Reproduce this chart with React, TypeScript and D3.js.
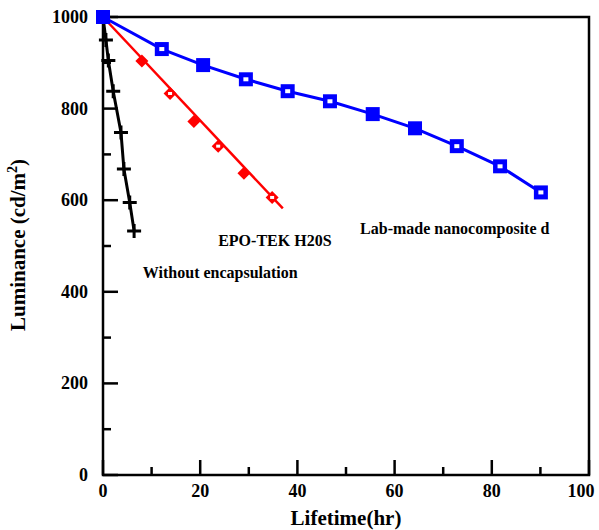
import * as React from 'react';
import { useEffect, useRef } from 'react';
import * as d3 from 'd3';

// Lab-made nanocomposite d (blue squares)
const blueHours = [0, 12.1, 20.6, 29.4, 38, 46.7, 55.5, 64.2, 72.8, 81.7, 90.1];
const blueLum = [1000, 930, 895, 864, 838, 816, 788, 757, 718, 674, 617];
const blueOpen = [false, true, false, true, true, true, false, false, true, true, true];

// EPO-TEK H20S (red diamonds) + its fitted line
const redHours = [0, 8.0, 13.8, 18.7, 23.7, 29.0, 34.8];
const redLum = [1000, 904, 833, 772, 718, 659, 606];
const redOpen = [false, false, true, false, true, false, true];
const redFitHours = [0, 37];
const redFitLum = [1000, 582];

// Without encapsulation (black crosses)
const blackHours = [0, 0.6, 1.1, 2.1, 3.7, 4.3, 5.5, 6.4];
const blackLum = [1000, 950, 905, 838, 748, 668, 595, 533];

const xTicks = [0, 20, 40, 60, 80, 100];
const xMinor = [10, 30, 50, 70, 90];
const yTicks = [0, 200, 400, 600, 800, 1000];
const yMinor = [100, 300, 500, 700, 900];

const W = 599;
const H = 530;
const margin = { top: 17, right: 10, bottom: 55, left: 103 };
const FONT = '"Liberation Serif", "Times New Roman", serif';

type Pt = { x: number; y: number; open?: boolean };
const zip = (xs: number[], ys: number[], open?: boolean[]): Pt[] =>
    xs.map((x, i) => ({ x, y: ys[i], open: open ? open[i] : false }));

export default function App() {
    const svgRef = useRef<SVGSVGElement>(null);

    useEffect(() => {
        if (!svgRef.current) return;
        const svg = d3.select(svgRef.current);
        svg.selectAll('*').remove();

        const x = d3.scaleLinear().domain([0, 100]).range([margin.left, W - margin.right]);
        const y = d3.scaleLinear().domain([0, 1000]).range([H - margin.bottom, margin.top]);

        const line = d3.line<Pt>().x(d => x(d.x)).y(d => y(d.y));

        const blue = zip(blueHours, blueLum, blueOpen);
        const red = zip(redHours, redLum, redOpen);
        const redFit = zip(redFitHours, redFitLum);
        const black = zip(blackHours, blackLum);

        // ticks (inward)
        const g = svg.append('g');
        const tick = (sel: any, data: number[], len: number, axis: 'x' | 'y') => {
            sel.selectAll(null).data(data).enter().append('line')
                .attr('x1', (d: number) => axis === 'x' ? x(d) : x(0))
                .attr('x2', (d: number) => axis === 'x' ? x(d) : x(0) + len)
                .attr('y1', (d: number) => axis === 'x' ? y(0) : y(d))
                .attr('y2', (d: number) => axis === 'x' ? y(0) - len : y(d))
                .attr('stroke', '#000')
                .attr('stroke-width', 2.5);
        };
        tick(g, xTicks, 15, 'x');
        tick(g, xMinor, 8, 'x');
        tick(g, yTicks, 15, 'y');
        tick(g, yMinor, 8, 'y');

        // frame
        svg.append('rect')
            .attr('x', x(0)).attr('y', y(1000))
            .attr('width', x(100) - x(0)).attr('height', y(0) - y(1000))
            .attr('fill', 'none').attr('stroke', '#000').attr('stroke-width', 2.5);

        // tick labels (last one pulled in so it stays on the page)
        svg.append('g').selectAll('text').data(xTicks).enter().append('text')
            .attr('x', d => d === 100 ? x(d) - 8 : x(d)).attr('y', y(0) + 22)
            .attr('text-anchor', 'middle')
            .attr('font-family', FONT).attr('font-weight', 'bold').attr('font-size', 18)
            .text(d => d);
        svg.append('g').selectAll('text').data(yTicks).enter().append('text')
            .attr('x', x(0) - 15).attr('y', d => y(d) + 6)
            .attr('text-anchor', 'end')
            .attr('font-family', FONT).attr('font-weight', 'bold').attr('font-size', 18)
            .text(d => d);

        // axis titles
        svg.append('text')
            .attr('x', 346).attr('y', 525)
            .attr('text-anchor', 'middle')
            .attr('font-family', FONT).attr('font-weight', 'bold').attr('font-size', 21)
            .text('Lifetime(hr)');
        const yl = svg.append('text')
            .attr('transform', `translate(25,245) rotate(-90)`)
            .attr('text-anchor', 'middle')
            .attr('font-family', FONT).attr('font-weight', 'bold').attr('font-size', 21);
        yl.append('tspan').text('Luminance (cd/m');
        yl.append('tspan').attr('font-size', 14).attr('dy', -8).text('2');
        yl.append('tspan').attr('dy', 8).text(')');

        // black series
        svg.append('path').datum(black).attr('d', line)
            .attr('fill', 'none').attr('stroke', '#000').attr('stroke-width', 3);
        svg.append('g').selectAll('path').data(black.slice(1)).enter().append('path')
            .attr('d', d => `M${x(d.x) - 7},${y(d.y)}h14M${x(d.x)},${y(d.y) - 7}v14`)
            .attr('stroke', '#000').attr('stroke-width', 3).attr('fill', 'none');

        // red series
        svg.append('path').datum(redFit).attr('d', line)
            .attr('fill', 'none').attr('stroke', '#ff0000').attr('stroke-width', 2.5);
        const rg = svg.append('g').selectAll('g').data(red).enter().append('g')
            .attr('transform', d => `translate(${x(d.x)},${y(d.y)})`);
        rg.append('path').attr('d', 'M0,-6.5L6.5,0L0,6.5L-6.5,0Z').attr('fill', '#ff0000');
        rg.filter(d => !!d.open).append('rect')
            .attr('x', -2).attr('y', -1.5).attr('width', 4).attr('height', 3).attr('fill', '#fff');

        // blue series
        svg.append('path').datum(blue).attr('d', line)
            .attr('fill', 'none').attr('stroke', '#0000ff').attr('stroke-width', 3);
        const bg = svg.append('g').selectAll('g').data(blue).enter().append('g')
            .attr('transform', d => `translate(${x(d.x)},${y(d.y)})`);
        bg.append('rect').attr('x', -7).attr('y', -7).attr('width', 14).attr('height', 14).attr('fill', '#0000ff');
        bg.filter(d => !!d.open).append('rect')
            .attr('x', -2.5).attr('y', -2).attr('width', 5).attr('height', 4).attr('fill', '#fff');

        // series annotations
        const notes = [
            { t: 'Lab-made nanocomposite d', hx: 52.9, ly: 527 },
            { t: 'EPO-TEK H20S', hx: 23.7, ly: 501 },
            { t: 'Without encapsulation', hx: 8.2, ly: 430 },
        ];
        svg.append('g').selectAll('text').data(notes).enter().append('text')
            .attr('x', d => x(d.hx)).attr('y', d => y(d.ly))
            .attr('font-family', FONT).attr('font-weight', 'bold').attr('font-size', 16)
            .text(d => d.t);
    }, []);

    return (
        <svg ref={svgRef} width={W} height={H}
            style={{ position: 'absolute', left: 0, top: 0, background: '#fff' }} />
    );
}
